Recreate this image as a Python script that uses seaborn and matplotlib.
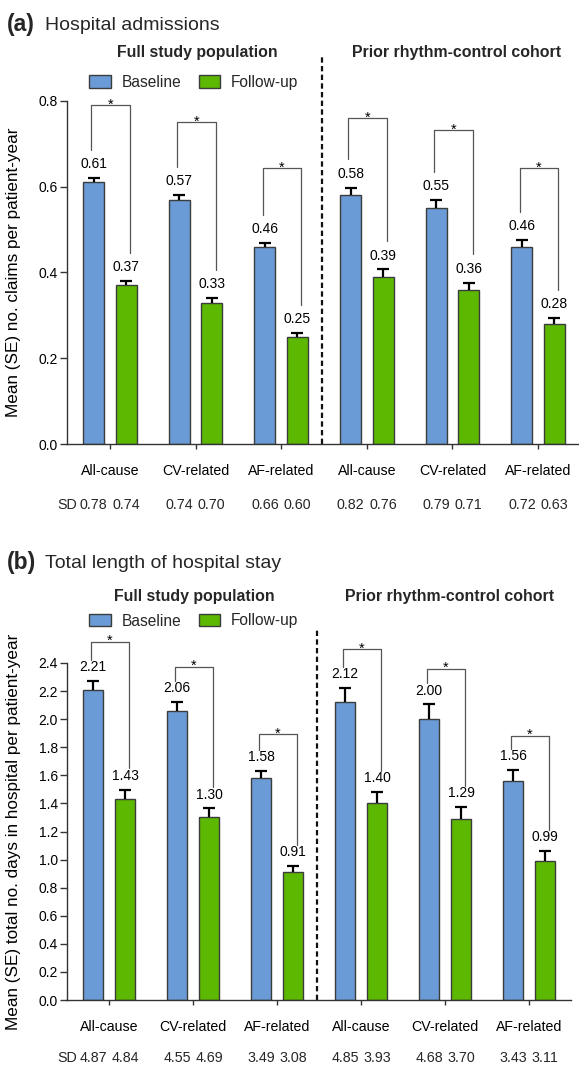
import matplotlib
matplotlib.use("Agg")
import matplotlib.pyplot as plt
from matplotlib.patches import Patch
import pandas as pd
import seaborn as sns

# ---- data -----------------------------------------------------------------
categories = ["All-cause", "CV-related", "AF-related"]
cohorts = ["Full study population", "Prior rhythm-control cohort"]
periods = ["Baseline", "Follow-up"]

# (a) hospital admissions: mean claims per patient-year
adm_baseline = [0.61, 0.57, 0.46, 0.58, 0.55, 0.46]
adm_followup = [0.37, 0.33, 0.25, 0.39, 0.36, 0.28]
adm_se_baseline = [0.010, 0.010, 0.009, 0.018, 0.019, 0.016]
adm_se_followup = [0.010, 0.010, 0.008, 0.017, 0.016, 0.014]
adm_sd_baseline = [0.78, 0.74, 0.66, 0.82, 0.79, 0.72]
adm_sd_followup = [0.74, 0.70, 0.60, 0.76, 0.71, 0.63]

# (b) total length of hospital stay: mean days per patient-year
los_baseline = [2.21, 2.06, 1.58, 2.12, 2.00, 1.56]
los_followup = [1.43, 1.30, 0.91, 1.40, 1.29, 0.99]
los_se_baseline = [0.060, 0.062, 0.050, 0.105, 0.105, 0.076]
los_se_followup = [0.069, 0.064, 0.045, 0.083, 0.083, 0.069]
los_sd_baseline = [4.87, 4.55, 3.49, 4.85, 4.68, 3.43]
los_sd_followup = [4.84, 4.69, 3.08, 3.93, 3.70, 3.11]

# ---- style ----------------------------------------------------------------
sns.set_style("ticks")
plt.rcParams["font.family"] = ["Liberation Sans", "DejaVu Sans"]

BLUE = "#6A9BD6"
GREEN = "#5CB800"
EDGE = "#3c3c3c"
AXC = "#333333"
W, H = 579, 1066
PT = 0.72  # points per pixel at 100 dpi

fig = plt.figure(figsize=(W / 100, H / 100), dpi=100)

groups = [f"{c}|{cat}" for c in cohorts for cat in categories]


def draw_panel(ax, base, foll, se_b, se_f, sd_b, sd_f, ymax, ystep, ylabel,
               bracket_tops, pad, sd_px, sep_top, head_y, legend_y):
    df = pd.DataFrame({
        "group": groups * 2,
        "period": [periods[0]] * len(groups) + [periods[1]] * len(groups),
        "value": list(base) + list(foll),
    })
    sns.barplot(data=df, x="group", y="value", hue="period", order=groups,
                hue_order=periods, palette=[BLUE, GREEN], saturation=1,
                width=0.76, gap=0.35, edgecolor=EDGE, linewidth=1.0,
                errorbar=None, legend=False, ax=ax)

    ax.set_xlim(-0.5, len(groups) - 0.5)
    ax.set_ylim(0, ymax)
    n_ticks = int(round(ymax / ystep)) + 1
    ax.set_yticks([i * ystep for i in range(n_ticks)])
    ax.yaxis.set_major_formatter(matplotlib.ticker.FormatStrFormatter("%.1f"))
    ax.set_xticks(range(len(groups)), labels=categories * len(cohorts))
    ax.set_xlabel("")
    ax.set_ylabel(ylabel, fontsize=12.3, color="black")
    for s in ("top", "right"):
        ax.spines[s].set_visible(False)
    for s in ("left", "bottom"):
        ax.spines[s].set_color(AXC)
        ax.spines[s].set_linewidth(1.0)
    ax.tick_params(axis="y", direction="out", length=5, width=1, pad=1.5,
                   labelsize=10, color=AXC, labelcolor="black")
    ax.tick_params(axis="x", direction="out", length=3.6, width=1, pad=10.5,
                   labelsize=10.2, color=AXC, labelcolor="black")

    bars_b = ax.containers[0]
    bars_f = ax.containers[1]
    xb = [b.get_x() + b.get_width() / 2 for b in bars_b]
    xf = [b.get_x() + b.get_width() / 2 for b in bars_f]

    # one-sided SE bars (upper only)
    for xs, ys, se in ((xb, base, se_b), (xf, foll, se_f)):
        zeros = [0] * len(se)
        _, caps, _ = ax.errorbar(xs, ys, yerr=[zeros, se], fmt="none",
                                 ecolor="black", elinewidth=1.6, capsize=4,
                                 capthick=1.6, zorder=3)
        caps[0].set_visible(False)
        for x, y, s in zip(xs, ys, se):
            ax.annotate(f"{y:.2f}", (x, y + s), xytext=(0, 10),
                        textcoords="offset points", ha="center", va="center",
                        fontsize=10, color="black", annotation_clip=False)

    # significance brackets
    for i in range(len(groups)):
        lx, rx = i - 0.215, i + 0.235
        lf = base[i] + se_b[i] + pad
        rf = foll[i] + se_f[i] + pad
        top = bracket_tops[i]
        ax.plot([lx, lx, rx, rx], [lf, top, top, rf], color="#555555",
                lw=0.9, clip_on=False, zorder=2)
        ax.annotate("*", ((lx + rx) / 2, top), xytext=(0, -2.5),
                    textcoords="offset points", ha="center", va="baseline",
                    fontsize=10.5, color="black", annotation_clip=False)

    # SD row below category labels
    xt = ax.get_xaxis_transform()
    for xs, vals in ((xb, sd_b), (xf, sd_f)):
        for x, v in zip(xs, vals):
            ax.annotate(f"{v:.2f}", (x, 0), xycoords=xt,
                        xytext=(0, -sd_px * PT), textcoords="offset points",
                        ha="center", va="center", fontsize=10.3,
                        annotation_clip=False)
    ax.annotate("SD", (xb[0], 0), xycoords=xt,
                xytext=(-16 * PT, -sd_px * PT), textcoords="offset points",
                ha="right", va="center", fontsize=10.3, annotation_clip=False)

    # cohort separator
    ax.axvline(2.48, ymin=0, ymax=sep_top, color="#111111", lw=1.6,
               dashes=(2.4, 1.5), clip_on=False, zorder=1)

    # cohort headings
    for xpos, name in ((1.02, cohorts[0]), (4.05, cohorts[1])):
        ax.text(xpos, head_y, name, transform=xt, ha="center", va="center",
                fontsize=11.4, fontweight="bold")

    handles = [Patch(facecolor=BLUE, edgecolor=EDGE, lw=1.0),
               Patch(facecolor=GREEN, edgecolor=EDGE, lw=1.0)]
    fig.legend(handles, periods, loc="center left",
               bbox_to_anchor=(89 / W, legend_y), ncol=2, frameon=False,
               fontsize=11.2, handlelength=1.4, handleheight=0.85,
               handletextpad=0.7, columnspacing=1.1, borderpad=0,
               borderaxespad=0)


# panel (a)
ax_a = fig.add_axes([67 / W, 1 - 444 / H, 514 / W, 343 / H])
draw_panel(ax_a, adm_baseline, adm_followup, adm_se_baseline, adm_se_followup,
           adm_sd_baseline, adm_sd_followup, 0.8, 0.2,
           "Mean (SE) no. claims per patient-year",
           [0.791, 0.750, 0.643, 0.760, 0.732, 0.644], 0.066, 61,
           (444 - 57) / 343, (444 - 53) / 343, 1 - 82.5 / H)
ax_a.yaxis.set_label_coords((21 - 67) / 514, 0.5)

# panel (b)
ax_b = fig.add_axes([67 / W, 1 - 1000 / H, 504 / W, 337 / H])
draw_panel(ax_b, los_baseline, los_followup, los_se_baseline, los_se_followup,
           los_sd_baseline, los_sd_followup, 2.4, 0.2,
           "Mean (SE) total no. days in hospital per patient-year",
           [2.551, 2.373, 1.894, 2.497, 2.360, 1.882], 0.15, 58,
           (1000 - 629) / 337, (1000 - 596) / 337, 1 - 621 / H)
ax_b.yaxis.set_label_coords((21 - 67) / 504, 0.5)

# panel titles
for y_px, tag, title in ((25, "(a)", "Hospital admissions"),
                         (563, "(b)", "Total length of hospital stay")):
    fig.text(7 / W, 1 - y_px / H, tag, ha="left", va="center",
             fontsize=16.5, fontweight="bold")
    fig.text(45 / W, 1 - y_px / H, title, ha="left", va="center", fontsize=14)

fig.savefig("out.png", dpi=100)
